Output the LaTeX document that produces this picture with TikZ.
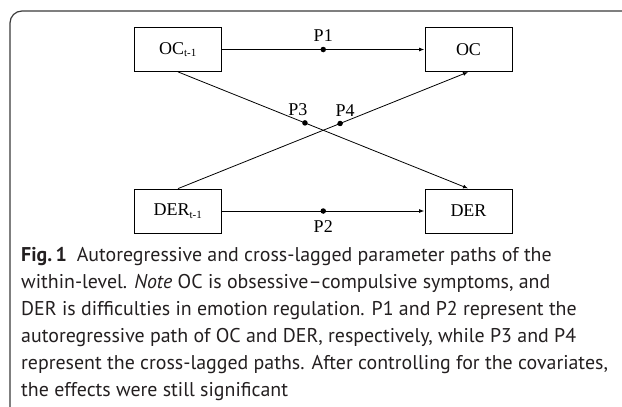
\documentclass[tikz,border=0pt]{standalone}
\usepackage{fontspec}
\setmainfont{Liberation Serif}
\newfontfamily\capfont[Ligatures=TeX]{PT Sans}
\usepackage{tikz}
\usetikzlibrary{arrows.meta,positioning}
\definecolor{capText}{HTML}{231F20}
\definecolor{frameGray}{HTML}{3A3A3A}

\begin{document}
\begin{tikzpicture}[x=1pt, y=-1pt, font=\fontsize{18}{20}\selectfont,
    varbox/.style={draw, line width=0.8pt, minimum width=87pt, minimum height=44pt, inner sep=0pt},
    path/.style={-{Latex[length=5pt,width=4pt]}, line width=0.8pt, shorten >=0.5pt},
    dot/.style={circle, fill, inner sep=0pt, minimum size=5.5pt},
    plabel/.style={inner sep=0pt}]
    \clip (0,0) rectangle (622,407);
    % outer frame, open to the right and bottom
    \draw[frameGray, line width=1.2pt, rounded corners=12pt] (10,11) rectangle (660,440);

    \node[varbox] (octl) at (178,49.5) {OC\textsubscript{\fontsize{11}{11}\selectfont t-1}};
    \node[varbox] (oc) at (468.5,49.5) {OC};
    \node[varbox] (dertl) at (178,211) {DER\textsubscript{\fontsize{11}{11}\selectfont t-1}};
    \node[varbox] (der) at (468.5,211) {DER};

    \draw[path] (octl) -- node[dot, pos=0.5] (p1) {} (oc);
    \draw[path] (dertl) -- node[dot, pos=0.5] (p2) {} (der);
    \draw[path] (octl.south) -- node[dot, pos=0.437] (p3) {} (der.north);
    \draw[path] (dertl.north) -- node[dot, pos=0.558] (p4) {} (oc.south);

    \node[plabel] at ([shift={(0,-14)}]p1) {P1};
    \node[plabel] at ([shift={(0,16)}]p2) {P2};
    \node[plabel] at ([shift={(-7,-13)}]p3) {P3};
    \node[plabel] at ([shift={(5,-13)}]p4) {P4};

    % caption
    \node[anchor=north west, align=left, inner sep=0pt, text=capText,
          font=\capfont\fontsize{19.9}{27}\selectfont] (caption) at (21,247)
        {\textbf{Fig.\,1}\enspace Autoregressive and cross-lagged parameter paths of the\\
         within-level. \textit{Note} OC is obsessive--compulsive symptoms, and\\
         DER is difficulties in emotion regulation. P1 and P2 represent the\\
         autoregressive path of OC and DER, respectively, while P3 and P4\\
         represent the cross-lagged paths. After controlling for the covariates,\\
         the effects were still significant};
\end{tikzpicture}
\end{document}
